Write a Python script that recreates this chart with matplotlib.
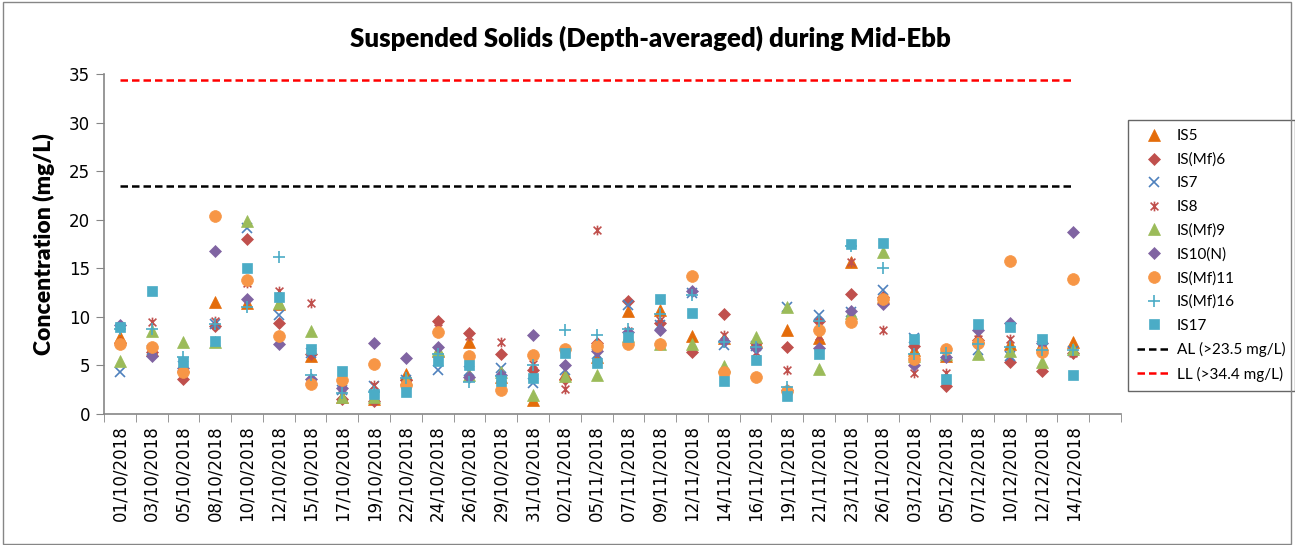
import numpy as np
import matplotlib.pyplot as plt
from matplotlib.path import Path
from matplotlib.patches import Rectangle

dates = ["01/10/2018", "03/10/2018", "05/10/2018", "08/10/2018", "10/10/2018",
         "12/10/2018", "15/10/2018", "17/10/2018", "19/10/2018", "22/10/2018",
         "24/10/2018", "26/10/2018", "29/10/2018", "31/10/2018", "02/11/2018",
         "05/11/2018", "07/11/2018", "09/11/2018", "12/11/2018", "14/11/2018",
         "16/11/2018", "19/11/2018", "21/11/2018", "23/11/2018", "26/11/2018",
         "03/12/2018", "05/12/2018", "07/12/2018", "10/12/2018", "12/12/2018",
         "14/12/2018"]

is5 = [7.9, 6.6, 4.9, 11.5, 11.4, 11.3, 6.0, 1.7, 1.5, 4.1, 6.5, 7.45, 3.8, 1.45, 4.1, 5.9,
       10.6, 10.7, 8.0, 7.8, 7.5, 8.6, 7.8, 15.6, 12.0, 6.6, 6.0, 7.95, 7.2, 7.2, 7.4]
is_mf6 = [7.3, 6.4, 3.6, 9.06, 18.05, 9.4, 6.2, 1.55, 1.3, 3.5, 9.55, 8.3, 6.15, 4.5, 3.6, 7.3,
          11.6, 9.35, 6.4, 10.3, 7.3, 6.9, 9.6, 12.4, 12.0, 7.0, 2.9, 7.6, 5.4, 4.4, 6.3]
is7 = [4.3, 6.6, 4.9, 9.3, 19.1, 10.2, 6.3, 2.5, 2.9, 3.5, 4.5, 4.4, 4.7, 3.2, 4.5, 6.2,
       11.2, 9.2, 12.5, 7.1, 7.0, 11.0, 10.2, 10.5, 12.8, 7.8, 6.0, 6.6, 6.0, 7.0, 6.5]
is8 = [9.1, 9.5, 5.0, 9.6, 13.5, 12.7, 11.4, 2.0, 3.0, 3.3, 8.9, 8.0, 7.45, 5.1, 2.6, 18.9,
       8.5, 9.7, 6.6, 8.1, 6.4, 4.5, 8.0, 15.6, 8.65, 4.25, 4.25, 7.7, 7.7, 6.9, 6.25]
is_mf9 = [5.5, 8.5, 7.45, 7.4, 19.9, 11.4, 8.55, 1.8, 1.8, 3.6, 6.6, 4.0, 4.35, 1.95, 3.9, 4.0,
          8.0, 7.2, 7.2, 4.9, 7.95, 11.05, 4.6, 10.4, 16.7, 6.0, 6.2, 6.2, 6.5, 5.4, 6.65]
is10n = [9.2, 6.0, 4.7, 16.75, 11.8, 7.2, 3.6, 2.7, 7.3, 5.8, 6.9, 3.85, 4.0, 8.1, 5.05, 6.5,
         8.4, 8.65, 12.7, 7.5, 6.8, 2.5, 6.75, 10.65, 11.3, 5.0, 5.9, 8.65, 9.4, 7.3, 18.7]
is_mf11 = [7.2, 6.9, 4.3, 20.4, 13.8, 8.0, 3.1, 3.5, 5.1, 3.0, 8.4, 6.0, 2.5, 6.1, 6.65, 7.0,
           7.2, 7.2, 14.2, 4.35, 3.85, 2.4, 8.65, 9.45, 11.8, 5.7, 6.65, 7.35, 15.7, 6.4, 13.9]
is_mf16 = [8.7, 8.7, 5.9, 9.3, 11.0, 16.2, 4.0, 2.2, 2.3, 3.7, 6.2, 3.3, 3.9, 5.0, 8.6, 8.1,
           8.75, 10.3, 12.25, 7.45, 6.9, 2.8, 9.6, 17.3, 15.05, 6.2, 6.25, 7.2, 6.9, 6.6, 6.6]
is17 = [8.96, 12.7, 5.35, 7.5, 15.0, 12.0, 6.7, 4.4, 2.1, 2.3, 5.5, 5.05, 3.4, 3.75, 6.3, 5.2,
        7.9, 11.85, 10.35, 3.4, 5.55, 1.85, 6.15, 17.5, 17.6, 7.7, 3.6, 9.3, 9.0, 7.7, 4.0]

al_limit = 23.5
ll_limit = 34.4

# excel style star: an x with a vertical bar
star = Path([(-1, -1), (1, 1), (-1, 1), (1, -1), (0, -1.25), (0, 1.25)],
            [Path.MOVETO, Path.LINETO, Path.MOVETO, Path.LINETO, Path.MOVETO, Path.LINETO])

series = [
    ("IS5", is5, "^", "#E46C0A", 8),
    ("IS(Mf)6", is_mf6, "D", "#C0504D", 6.5),
    ("IS7", is7, "x", "#4F81BD", 7),
    ("IS8", is8, star, "#C0504D", 7),
    ("IS(Mf)9", is_mf9, "^", "#9BBB59", 8),
    ("IS10(N)", is10n, "D", "#8064A2", 6.5),
    ("IS(Mf)11", is_mf11, "o", "#F79646", 8.5),
    ("IS(Mf)16", is_mf16, "+", "#4BACC6", 8),
    ("IS17", is17, "s", "#4BACC6", 7.5),
]

fig = plt.figure(figsize=(12.95, 5.45), dpi=100)
ax = fig.add_axes([104 / 1295, 1 - 414 / 545, 1017 / 1295, 340 / 545])

x = np.arange(len(dates))
for name, vals, mk, col, ms in series:
    ax.plot(x, vals, linestyle="none", marker=mk, color=col, markersize=ms,
            markeredgewidth=1.2 if mk in ("x", "+") or mk is star else 0.5,
            label=name)

ax.plot(x[[0, -1]], [al_limit, al_limit], color="black", lw=1.8, dashes=(3, 1.6),
        label="AL (>23.5 mg/L)")
ax.plot(x[[0, -1]], [ll_limit, ll_limit], color="#FF0000", lw=1.8, dashes=(3, 1.6),
        label="LL (>34.4 mg/L)")

ax.set_xlim(-0.5, len(dates) + 0.5)
ax.set_ylim(0, 35)
ax.set_yticks(np.arange(0, 36, 5))
ax.set_xticks(x)
ax.set_xticklabels(dates, rotation=90, family="DejaVu Sans", fontsize=12)
ax.set_xticks(np.arange(-0.5, len(dates) + 1, 1), minor=True)
ax.tick_params(axis="x", which="major", length=0, pad=8)
ax.tick_params(axis="x", which="minor", length=6, color="#868686")
ax.tick_params(axis="y", length=6, color="#868686", labelsize=12, pad=4)
for t in ax.get_yticklabels():
    t.set_family("DejaVu Sans")

for s in ("top", "right"):
    ax.spines[s].set_visible(False)
for s in ("left", "bottom"):
    ax.spines[s].set_color("#868686")
    ax.spines[s].set_linewidth(1.2)

ax.set_ylabel("Concentration (mg/L)", family="Lato", fontweight="heavy", fontsize=16.5, labelpad=10)
fig.text(0.502, 1 - 38 / 545, "Suspended Solids (Depth-averaged) during Mid-Ebb",
         family="Lato", fontweight="heavy", fontsize=18.5, ha="center", va="center")

leg = ax.legend(loc="upper left", bbox_to_anchor=(1128 / 1295, 1 - 120 / 545),
                bbox_transform=fig.transFigure, frameon=True, fancybox=False,
                prop={"family": "Lato", "size": 11}, handlelength=2.2,
                labelspacing=0.62, borderpad=0.6, handletextpad=0.4,
                borderaxespad=0)
leg.get_frame().set_edgecolor("#404040")
leg.get_frame().set_linewidth(1)

fig.add_artist(Rectangle((0.002, 0.002), 0.995, 0.995, transform=fig.transFigure,
                         fill=False, edgecolor="#868686", lw=1))

fig.savefig("out.png", dpi=100)
